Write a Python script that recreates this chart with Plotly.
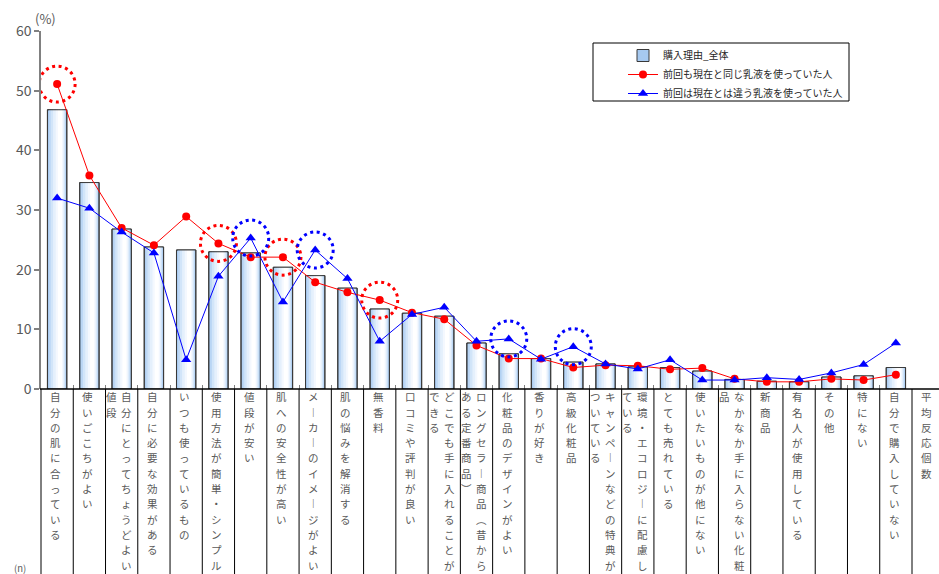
import plotly.graph_objects as go

# Purchase reasons (x categories) and the share of respondents choosing each one (%)
categories = [
    "自分の肌に合っている", "使いごこちがよい", "自分にとってちょうどよい値段",
    "自分に必要な効果がある", "いつも使っているもの", "使用方法が簡単・シンプル",
    "値段が安い", "肌への安全性が高い", "メーカーのイメージがよい",
    "肌の悩みを解消する", "無香料", "口コミや評判が良い",
    "どこでも手に入れることができる", "ロングセラー商品（昔からある定番商品）",
    "化粧品のデザインがよい", "香りが好き", "高級化粧品",
    "キャンペーンなどの特典がついている", "環境・エコロジーに配慮している",
    "とても売れている", "使いたいものが他にない", "なかなか手に入らない化粧品",
    "新商品", "有名人が使用している", "その他", "特にない", "自分で購入していない",
]
extra_column = "平均反応個数"

overall = [46.8, 34.6, 26.8, 23.8, 23.3, 23.0, 22.8, 20.4, 19.0, 16.9, 13.4, 12.7,
           12.2, 7.7, 5.9, 5.1, 4.5, 4.2, 3.7, 3.6, 3.0, 1.6, 1.3, 1.2, 2.0, 2.2, 3.6]
same_lotion = [51.1, 35.8, 27.0, 24.1, 28.9, 24.4, 22.1, 22.1, 17.9, 16.2, 14.9, 12.8,
               11.7, 7.3, 5.1, 5.1, 3.6, 4.0, 3.9, 3.3, 3.5, 1.7, 1.2, 1.2, 1.7, 1.5, 2.4]
other_lotion = [32.0, 30.3, 26.3, 22.8, 4.9, 18.9, 25.3, 14.6, 23.3, 18.5, 8.0, 12.5,
                13.7, 8.0, 8.4, 5.0, 7.1, 4.2, 3.35, 4.9, 1.5, 1.5, 1.9, 1.6, 2.7, 4.1, 7.7]

# Highlighted points (category index) for each respondent group
same_highlight = [0, 5, 7, 10]
other_highlight = [6, 8, 14, 16]

name_all = "購入理由_全体"
name_same = "前回も現在と同じ乳液を使っていた人"
name_other = "前回は現在とは違う乳液を使っていた人"

W, H = 939, 574
M_L, M_R, M_T, M_B = 41, 27, 31, 185
plot_w = W - M_L - M_R
plot_h = H - M_T - M_B
n = len(categories)

JP = "Noto Sans CJK JP"
GRAY = "#595959"

fig = go.Figure()

BAR_W = 0.6
# legend entry / base layer of the bars
fig.add_trace(go.Bar(
    x=categories, y=overall, name=name_all, width=BAR_W, offset=-BAR_W / 2,
    marker=dict(color="#a6c9f0", line=dict(color="#3a3a3a", width=1)),
    hoverinfo="skip",
))
# lighter inner strips give the bars a horizontal gradient
layers = [
    (0.07, 0.95, "#bcd7f5"),
    (0.17, 0.91, "#d2e5f9"),
    (0.29, 0.86, "#e5f0fc"),
    (0.43, 0.81, "#f4f8fe"),
    (0.54, 0.75, "#ffffff"),
]
for a, b, col in layers:
    fig.add_trace(go.Bar(
        x=categories, y=overall, width=BAR_W * (b - a), offset=-BAR_W / 2 + BAR_W * a,
        marker=dict(color=col, line=dict(width=0)), showlegend=False, hoverinfo="skip",
    ))
# outline on top of the gradient
fig.add_trace(go.Bar(
    x=categories, y=overall, width=BAR_W, offset=-BAR_W / 2,
    marker=dict(color="rgba(0,0,0,0)", line=dict(color="#3a3a3a", width=1)),
    showlegend=False, hoverinfo="skip",
))

fig.add_trace(go.Scatter(
    x=categories, y=same_lotion, name=name_same, mode="lines+markers",
    line=dict(color="#ff0000", width=1), marker=dict(symbol="circle", size=8, color="#ff0000"),
))
fig.add_trace(go.Scatter(
    x=categories, y=other_lotion, name=name_other, mode="lines+markers",
    line=dict(color="#0000ff", width=1), marker=dict(symbol="triangle-up", size=9, color="#0000ff"),
))

shapes = []
# dotted rings around highlighted points
R = 18
for idx in same_highlight:
    shapes.append(dict(type="circle", xref="x", yref="y", xsizemode="pixel", ysizemode="pixel",
                       xanchor=categories[idx], yanchor=same_lotion[idx],
                       x0=-R, x1=R, y0=-R, y1=R,
                       line=dict(color="#ff0000", width=3, dash="3px,3.6px"), layer="above"))
for idx in other_highlight:
    shapes.append(dict(type="circle", xref="x", yref="y", xsizemode="pixel", ysizemode="pixel",
                       xanchor=categories[idx], yanchor=other_lotion[idx],
                       x0=-R, x1=R, y0=-R, y1=R,
                       line=dict(color="#0000ff", width=3, dash="3px,3.6px"), layer="above"))

# table under the x axis: top rule and column separators
shapes.append(dict(type="line", xref="paper", yref="paper", x0=-1 / plot_w, x1=(W - M_L + 5) / plot_w,
                   y0=0, y1=0, line=dict(color="#000000", width=1.5), layer="above"))
for k in range(n + 2):
    xp = k / n
    shapes.append(dict(type="line", xref="paper", yref="paper", x0=xp, x1=xp,
                       y0=0, y1=-(M_B + 5) / plot_h, line=dict(color="#000000", width=1), layer="above"))

# legend frame
shapes.append(dict(type="rect", xref="paper", yref="paper",
                   x0=(593 - M_L) / plot_w, x1=(849 - M_L) / plot_w,
                   y0=(H - M_B - 101) / plot_h, y1=(H - M_B - 43) / plot_h,
                   line=dict(color="#000000", width=1), fillcolor="rgba(0,0,0,0)", layer="above"))

# vertical category labels, one character per row, columns read right to left
vertical_forms = {"ー": "︱", "（": "︵", "）": "︶"}
annotations = []
ROW = 15.3
FIRST = 7.7
PER_COL = 12
labels = categories + [extra_column]
for i, lab in enumerate(labels):
    cols = [lab[j:j + PER_COL] for j in range(0, len(lab), PER_COL)]
    if len(cols) == 1:
        shifts = [-1.5]
    else:
        shifts = [5, -10]
    for c, text in enumerate(cols):
        for r, ch in enumerate(text):
            annotations.append(dict(
                x=(i + 0.5) / n, xref="paper", y=0, yref="paper",
                xshift=shifts[c], yshift=-(FIRST + ROW * r),
                text=vertical_forms.get(ch, ch), showarrow=False,
                xanchor="center", yanchor="middle",
                font=dict(family=JP, size=10.5, color=GRAY),
            ))

annotations.append(dict(x=0, xref="paper", y=1, yref="paper", xshift=4, yshift=13,
                        text="(%)", showarrow=False, xanchor="center", yanchor="middle",
                        font=dict(family=JP, size=13, color=GRAY)))
annotations.append(dict(x=0, xref="paper", y=0, yref="paper", xshift=-21, yshift=-179,
                        text="(n)", showarrow=False, xanchor="center", yanchor="middle",
                        font=dict(family=JP, size=9.5, color=GRAY)))

fig.update_layout(
    width=W, height=H,
    margin=dict(l=M_L, r=M_R, t=M_T, b=M_B, pad=0),
    paper_bgcolor="white", plot_bgcolor="white",
    barmode="overlay",
    font=dict(family=JP, color=GRAY),
    showlegend=True,
    legend=dict(
        x=(623 - M_L) / plot_w, y=(H - M_B - 41) / plot_h, xanchor="left", yanchor="top",
        bgcolor="rgba(0,0,0,0)", borderwidth=0,
        font=dict(family=JP, size=10, color="#262626"),
        itemwidth=30, tracegroupgap=0,
    ),
    xaxis=dict(
        type="category", range=[-0.5, n - 0.5], showticklabels=False,
        tickson="boundaries", ticks="inside", ticklen=4, tickcolor="#808080", tickwidth=1,
        showline=False, showgrid=False, zeroline=False,
    ),
    yaxis=dict(
        range=[0, 60], dtick=10, showline=True, linecolor="#808080", linewidth=1.5,
        ticks="outside", ticklen=5, tickcolor="#808080", tickwidth=1.5,
        tickfont=dict(family=JP, size=14, color=GRAY),
        showgrid=False, zeroline=False,
    ),
    shapes=shapes,
    annotations=annotations,
)

fig.write_html("out.html")
